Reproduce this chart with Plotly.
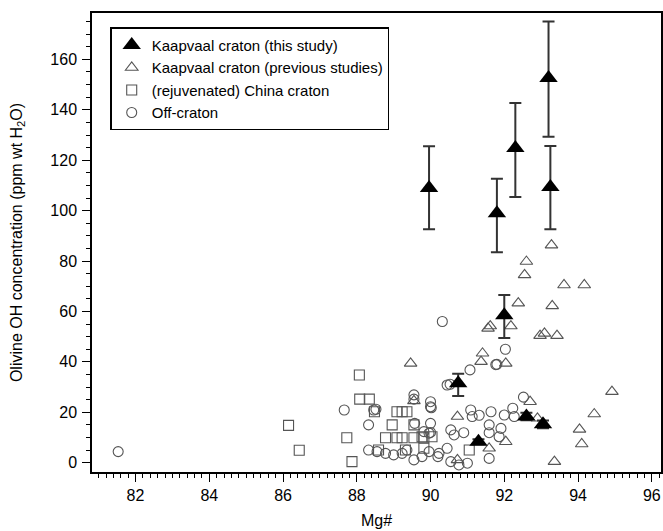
import plotly.graph_objects as go

# Kaapvaal craton (this study): Mg#, OH (ppm), error +/- 
ts_x = [89.96, 91.8, 92.3, 93.2, 93.25, 92.0, 90.75, 91.3, 92.6, 93.05]
ts_y = [109.0, 99.0, 124.8, 152.6, 109.4, 58.5, 31.5, 8.3, 18.3, 15.2]
ts_ep = [16.5, 13.6, 17.9, 22.4, 16.2, 8.0, 3.8, 1.0, 1.5, 1.5]
ts_em = [16.4, 15.5, 19.4, 23.3, 16.8, 9.0, 5.0, 1.0, 1.5, 1.5]

# Kaapvaal craton (previous studies)
kp_x = [93.28, 92.6, 92.55, 93.62, 94.17, 92.38, 93.3, 91.62, 91.56, 92.18,
        92.97, 93.09, 93.43, 91.41, 91.37, 92.04, 94.92, 92.7, 94.44, 90.73,
        92.9, 94.04, 94.1, 92.04, 91.59, 89.46, 89.55, 90.73, 93.36]
kp_y = [86.3, 79.8, 74.5, 70.5, 70.5, 63.3, 62.2, 54.2, 53.3, 54.2,
        50.4, 51.3, 50.4, 43.4, 40.1, 39.4, 28.2, 24.2, 19.3, 18.3,
        17.6, 13.2, 7.4, 8.3, 5.7, 39.4, 24.5, 1.1, 0.4]

# (rejuvenated) China craton
cc_x = [86.15, 86.44, 87.73, 87.87, 88.07, 88.08, 88.34, 88.48, 89.09, 89.23,
        89.36, 88.96, 89.55, 88.78, 89.09, 89.23, 89.55, 89.82, 88.59, 89.32,
        89.82, 91.05, 89.77, 90.04]
cc_y = [14.8, 4.9, 9.9, 0.4, 34.8, 25.2, 25.2, 20.2, 20.2, 20.2,
        20.2, 15.0, 15.0, 9.9, 9.9, 9.9, 9.9, 9.9, 5.0, 5.0,
        5.7, 5.0, 10.3, 10.3]

# Off-craton
oc_x = [81.53, 90.32, 92.03, 91.07, 91.8, 90.53, 92.52, 87.66, 88.32, 88.52,
        89.55, 90.0, 90.0, 88.46, 89.57, 90.0, 89.82, 90.55, 90.64, 90.9,
        91.09, 91.13, 91.32, 91.64, 92.0, 92.23, 92.27, 91.59, 91.59, 91.91,
        91.86, 88.32, 88.55, 88.78, 89.0, 89.23, 89.36, 89.55, 89.77, 89.96,
        90.23, 90.45, 90.55, 90.77, 91.0, 91.59, 89.55, 90.45, 91.77, 90.0,
        90.02, 89.96, 90.2]
oc_y = [4.4, 56.0, 45.0, 36.8, 39.0, 31.1, 26.0, 20.9, 15.0, 21.2,
        26.9, 24.2, 22.2, 20.9, 15.6, 15.6, 12.3, 13.0, 11.0, 11.9,
        20.9, 18.3, 18.8, 20.2, 18.9, 21.6, 18.3, 15.0, 11.9, 13.6,
        10.3, 5.0, 4.4, 3.7, 3.1, 3.7, 5.0, 1.1, 2.4, 4.4,
        3.7, 5.7, 0.4, -0.9, -0.2, 1.7, 25.2, 30.8, 38.9, 12.0,
        21.8, 11.7, 2.4]

x_ticks = [82, 84, 86, 88, 90, 92, 94, 96]
y_ticks = [0, 20, 40, 60, 80, 100, 120, 140, 160]

GRAY = "#555555"
fig = go.Figure()

fig.add_trace(go.Scatter(
    x=oc_x, y=oc_y, mode="markers", name="Off-craton",
    marker=dict(symbol="circle-open", size=10, color=GRAY, line=dict(width=1.1, color=GRAY))))
fig.add_trace(go.Scatter(
    x=cc_x, y=cc_y, mode="markers", name="(rejuvenated) China craton",
    marker=dict(symbol="square-open", size=10, color=GRAY, line=dict(width=1.1, color=GRAY))))
fig.add_trace(go.Scatter(
    x=kp_x, y=kp_y, mode="markers", name="Kaapvaal craton (previous studies)",
    marker=dict(symbol="triangle-up-open", size=11, color=GRAY, line=dict(width=1.1, color=GRAY))))
fig.add_trace(go.Scatter(
    x=ts_x, y=ts_y, mode="markers", name="Kaapvaal craton (this study)",
    error_y=dict(type="data", array=ts_ep, arrayminus=ts_em, color="#333333", thickness=2, width=6),
    marker=dict(symbol="triangle-up", size=16, color="black")))

font = "Liberation Sans, Arial, Helvetica, sans-serif"
fig.update_layout(
    width=663, height=531,
    margin=dict(l=92, r=2, t=13, b=59, autoexpand=False),
    paper_bgcolor="white", plot_bgcolor="white",
    font=dict(family=font, size=16, color="black"),
    showlegend=True,
    legend=dict(x=0.032, y=0.969, xanchor="left", yanchor="top",
                bordercolor="black", borderwidth=1.5, bgcolor="white",
                font=dict(size=15), traceorder="reversed",
                itemsizing="trace", tracegroupgap=0),
    xaxis=dict(range=[80.82, 96.25], tickvals=x_ticks, ticktext=[str(v) for v in x_ticks],
               automargin=False, tickfont=dict(size=16),
               showgrid=False, zeroline=False, showline=True, linecolor="black", linewidth=1.5,
               mirror=True, ticks="outside", ticklen=8, tickwidth=1.2, tickcolor="black",
               minor=dict(dtick=0.2, tick0=0, ticks="outside", ticklen=4, tickwidth=1, tickcolor="black", showgrid=False),
               title=dict(text="Mg#", font=dict(size=16), standoff=12)),
    yaxis=dict(range=[-3.7, 178.4], tickvals=y_ticks, ticktext=[str(v) for v in y_ticks],
               automargin=False, tickfont=dict(size=16), ticklabelstandoff=2,
               showgrid=False, zeroline=False, showline=True, linecolor="black", linewidth=1.5,
               mirror=True, ticks="outside", ticklen=8, tickwidth=1.2, tickcolor="black",
               minor=dict(dtick=5, tick0=0, ticks="outside", ticklen=4, tickwidth=1, tickcolor="black", showgrid=False),
               title=dict(text="Olivine OH concentration (ppm wt H<sub>2</sub>O)", font=dict(size=16), standoff=24)),
)

fig.write_html("out.html", config={"displayModeBar": False},
               post_script="document.body.style.margin='0';document.body.style.overflow='hidden';")
